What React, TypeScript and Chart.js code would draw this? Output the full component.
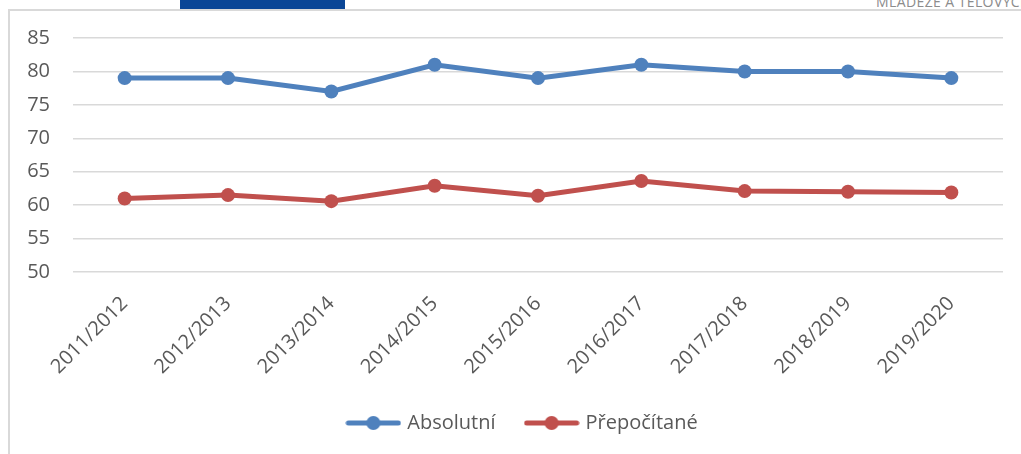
import React, { useEffect, useRef } from "react";
import { Chart, registerables } from "chart.js";

Chart.register(...registerables);

const categories = ["2011/2012", "2012/2013", "2013/2014", "2014/2015", "2015/2016", "2016/2017", "2017/2018", "2018/2019", "2019/2020"];
const absolutni = [79, 79, 77, 81, 79, 81, 80, 80, 79];
const prepocitane = [61.0, 61.5, 60.6, 62.9, 61.4, 63.6, 62.1, 62.0, 61.9];
const seriesNames = ["Absolutní", "Přepočítané"];
const seriesColors = ["#4f81bd", "#c0504d"];
const yTicks = [50, 55, 60, 65, 70, 75, 80, 85];

const FONT = "'Open Sans', 'Noto Sans', sans-serif";

function legendImage(color: string) {
  const c = document.createElement("canvas");
  c.width = 56;
  c.height = 16;
  const ctx = c.getContext("2d")!;
  ctx.strokeStyle = color;
  ctx.lineWidth = 5;
  ctx.lineCap = "round";
  ctx.beginPath();
  ctx.moveTo(3, 8);
  ctx.lineTo(53, 8);
  ctx.stroke();
  ctx.fillStyle = color;
  ctx.beginPath();
  ctx.arc(28, 8, 7, 0, Math.PI * 2);
  ctx.fill();
  return c;
}

const legendShift = {
  id: "legendShift",
  afterLayout(chart: any) {
    if (chart.legend) {
      chart.legend.left += 12;
      chart.legend.right += 12;
    }
  },
};

export default function App() {
  const ref = useRef<HTMLCanvasElement>(null);
  useEffect(() => {
    const imgs = seriesColors.map(legendImage);
    const chart = new Chart(ref.current!, {
      type: "line",
      data: {
        labels: categories,
        datasets: [absolutni, prepocitane].map((d, i) => ({
          label: seriesNames[i],
          data: d,
          borderColor: seriesColors[i],
          backgroundColor: seriesColors[i],
          borderWidth: 5,
          pointRadius: 7,
          pointHoverRadius: 7,
          pointBorderWidth: 0,
          tension: 0,
        })),
      },
      plugins: [legendShift],
      options: {
        responsive: false,
        animation: false,
        devicePixelRatio: 1,
        layout: { padding: { left: 20, right: 18, top: 38, bottom: 11 } },
        plugins: {
          tooltip: { enabled: false },
          legend: {
            position: "bottom",
            labels: {
              usePointStyle: true,
              pointStyleWidth: 48,
              padding: 32,
              color: "#595959",
              font: { family: FONT, size: 20 },
              generateLabels: (ch: any) => {
                const base = Chart.defaults.plugins.legend.labels.generateLabels(ch);
                return base.map((l: any, i: number) => ({ ...l, pointStyle: imgs[i], lineWidth: 0 }));
              },
            },
          },
        },
        scales: {
          x: {
            offset: true,
            grid: { display: false, drawTicks: false },
            border: { display: false },
            ticks: {
              minRotation: 45,
              maxRotation: 45,
              padding: 20,
              color: "#595959",
              font: { family: FONT, size: 20 },
            },
            afterFit: (s: any) => {
              s.height = 109;
            },
          },
          y: {
            min: 50,
            max: 85,
            afterBuildTicks: (s: any) => {
              s.ticks = yTicks.map((v) => ({ value: v }));
            },
            grid: { color: "#d9d9d9", lineWidth: 1.5, drawTicks: false },
            border: { display: false },
            ticks: {
              padding: 23,
              color: "#595959",
              font: { family: FONT, size: 20 },
            },
            afterFit: (s: any) => {
              s.width = 53;
            },
          },
        },
      },
    } as any);
    return () => chart.destroy();
  }, []);

  return (
    <div style={{ position: "fixed", left: 0, top: 0, width: 1021, height: 454, overflow: "hidden", background: "#fff" }}>
      <div style={{ position: "absolute", left: 180, top: 0, width: 165, height: 9, background: "#0a4696" }} />
      <div
        style={{
          position: "absolute",
          left: 876,
          top: -8,
          fontFamily: FONT,
          fontSize: 14,
          letterSpacing: 0.4,
          color: "#8c8c8c",
          whiteSpace: "nowrap",
        }}
      >
        MLÁDEŽE A TĚLOVÝCHOVY
      </div>
      <div
        style={{
          position: "absolute",
          left: 8,
          top: 9,
          width: 1100,
          height: 600,
          borderLeft: "2px solid #d9d9d9",
          borderTop: "2px solid #d9d9d9",
        }}
      />
      <canvas ref={ref} width={1021} height={454} style={{ position: "absolute", left: 0, top: 0, width: 1021, height: 454 }} />
    </div>
  );
}
